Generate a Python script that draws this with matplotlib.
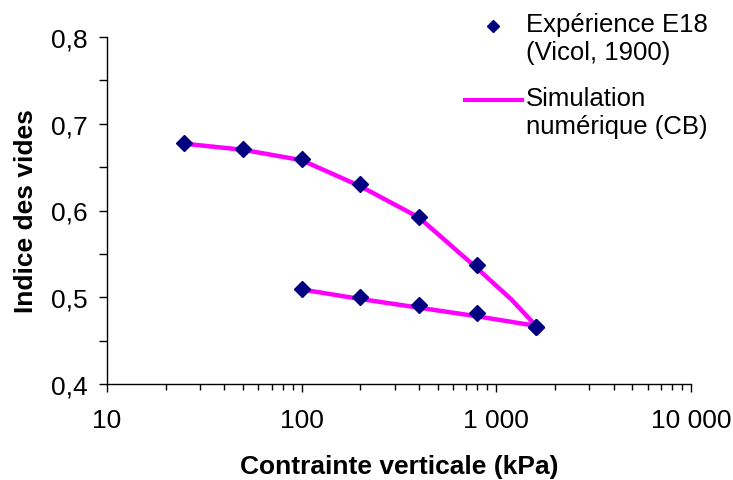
import matplotlib
matplotlib.use("Agg")
import matplotlib.pyplot as plt
from matplotlib.lines import Line2D
from matplotlib.legend_handler import HandlerLine2D
from matplotlib.ticker import FixedLocator, FixedFormatter, LogLocator, NullFormatter, MultipleLocator

plt.rcParams['font.family'] = ['Liberation Sans', 'DejaVu Sans']

# Experimental data (Vicol, 1900) - loading then unloading
exp_load_x = [25, 50, 100, 200, 400, 800, 1600]
exp_load_y = [0.678, 0.671, 0.659, 0.630, 0.593, 0.537, 0.466]
exp_unload_x = [1600, 800, 400, 200, 100]
exp_unload_y = [0.466, 0.482, 0.491, 0.500, 0.510]

# Numerical simulation (CB)
sim_load_x = [25, 50, 100, 200, 400, 800, 1200, 1600]
sim_load_y = [0.677, 0.670, 0.658, 0.628, 0.592, 0.533, 0.497, 0.467]
sim_unload_x = [1600, 800, 400, 200, 100]
sim_unload_y = [0.467, 0.478, 0.488, 0.498, 0.509]

xticks = [10, 100, 1000, 10000]
xtick_labels = ["10", "100", "1 000", "10 000"]
yticks = [0.4, 0.5, 0.6, 0.7, 0.8]
ytick_labels = ["0,4", "0,5", "0,6", "0,7", "0,8"]

LINE_C = "#FF00FF"
MARK_C = "#000080"
FS = 19

fig = plt.figure(figsize=(7.33, 4.81), dpi=100)
ax = fig.add_axes([107/733, 1-385/481, (691-107)/733, (385-38)/481])

ax.plot(sim_load_x, sim_load_y, color=LINE_C, lw=3.2, solid_capstyle='butt', zorder=2)
ax.plot(sim_unload_x, sim_unload_y, color=LINE_C, lw=3.2, solid_capstyle='butt', zorder=2)
ax.plot(exp_load_x, exp_load_y, ls='none', marker='D', ms=8.5, color=MARK_C, zorder=3)
ax.plot(exp_unload_x, exp_unload_y, ls='none', marker='D', ms=8.5, color=MARK_C, zorder=3)

ax.set_xscale('log')
ax.set_xlim(10, 10000)
ax.set_ylim(0.4, 0.8)

ax.xaxis.set_major_locator(FixedLocator(xticks))
ax.xaxis.set_major_formatter(FixedFormatter(xtick_labels))
ax.xaxis.set_minor_locator(LogLocator(base=10, subs=range(2, 10)))
ax.xaxis.set_minor_formatter(NullFormatter())
ax.yaxis.set_major_locator(FixedLocator(yticks))
ax.yaxis.set_major_formatter(FixedFormatter(ytick_labels))
ax.yaxis.set_minor_locator(MultipleLocator(0.05))

for s in ['top', 'right']:
    ax.spines[s].set_visible(False)
for s in ['left', 'bottom']:
    ax.spines[s].set_linewidth(1.0)
    ax.spines[s].set_color('black')

ax.tick_params(axis='both', which='major', direction='out', length=6, width=1, labelsize=FS)
ax.tick_params(axis='x', which='major', pad=11)
ax.tick_params(axis='y', which='major', pad=8)
ax.tick_params(axis='y', which='minor', direction='out', length=6, width=1)
ax.tick_params(axis='x', which='minor', direction='out', length=4, width=1)

ax.set_xlabel("Contrainte verticale (kPa)", fontsize=FS, fontweight='bold', labelpad=16)
ax.set_ylabel("Indice des vides", fontsize=FS, fontweight='bold', labelpad=9)

class TopHandler(HandlerLine2D):
    def __init__(self, shift=0, **kw):
        super().__init__(**kw)
        self.shift = shift
    def create_artists(self, legend, orig_handle, xdescent, ydescent, width, height, fontsize, trans):
        arts = super().create_artists(legend, orig_handle, xdescent, ydescent, width, height, fontsize, trans)
        for a in arts:
            a.set_ydata([y + self.shift for y in a.get_ydata()])
        return arts

h_exp = Line2D([], [], ls='none', marker='D', ms=6, color=MARK_C)
h_sim = Line2D([], [], color=LINE_C, lw=3)
leg = fig.legend([h_exp, h_sim],
                 ["Expérience E18\n(Vicol, 1900)", "Simulation\nnumérique (CB)"],
                 loc='upper left', bbox_to_anchor=(442/733, 1.0 + 10/481), frameon=False,
                 fontsize=18.5, handlelength=2.2, handletextpad=0.15, labelspacing=0.85,
                 handler_map={h_exp: TopHandler(shift=9), h_sim: TopHandler(shift=9)})
for t in leg.get_texts():
    t.set_linespacing(1.22)

fig.savefig("out.png", dpi=100)
